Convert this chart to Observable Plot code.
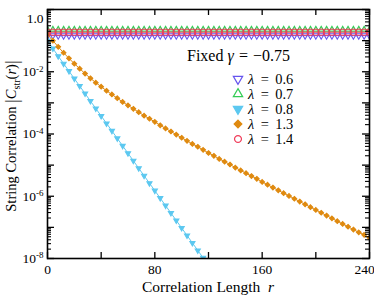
<!DOCTYPE html>
<html><head><meta charset="utf-8">
<script src="https://cdn.jsdelivr.net/npm/d3@7"></script>
<script src="https://cdn.jsdelivr.net/npm/@observablehq/plot@0.6"></script>
<style>
body{margin:0;background:#fff;}
#wrap{position:relative;width:374px;height:299px;font-family:"Liberation Serif","Times New Roman",serif;color:#000;}
.ov{position:absolute;white-space:nowrap;line-height:1;}
.eq{margin:0 0.32em;}
.eqw{margin:0 0.45em;}
</style></head><body><div id="wrap"></div>
<script>
// ---- data ----
const lambdaLabels = ["0.6", "0.7", "0.8", "1.3", "1.4"];
const gammaLabel = "−0.75";
const rGrid = [0,4,8,12,16,20,24,28,32,36,40,44,48,52,56,60,64,68,72,76,80,84,88,92,96,100,
  104,108,112,116,120,124,128,132,136,140,144,148,152,156,160,164,168,172,176,180,184,188,192,196,200,
  204,208,212,216,220,224,228,232,236,240];
const plateau06 = 0.145;   // λ = 0.6, flat
const plateau07 = 0.22;    // λ = 0.7, flat
const plateau14 = 0.187;   // λ = 1.4, flat
// log10 |C|
const log10C08 = [-1.00,-1.25,-1.50,-1.74,-1.98,-2.22,-2.46,-2.70,-2.94,-3.18,-3.42,-3.66,-3.90,-4.14,-4.38,
  -4.62,-4.86,-5.10,-5.34,-5.58,-5.82,-6.06,-6.30,-6.54,-6.78,-7.02,-7.26,-7.50,-7.74,-7.98,-8.22];
const log10C13 = [-0.80,-1.00,-1.20,-1.39,-1.57,-1.74,-1.90,-2.06,-2.21,-2.35,-2.48,-2.61,-2.73,-2.85,-2.97,
  -3.08,-3.19,-3.30,-3.41,-3.51,-3.61,-3.72,-3.82,-3.92,-4.02,-4.12,-4.22,-4.32,-4.41,-4.51,-4.61,-4.70,
  -4.80,-4.89,-4.98,-5.08,-5.17,-5.26,-5.35,-5.44,-5.54,-5.63,-5.72,-5.81,-5.90,-5.99,-6.08,-6.17,-6.26,
  -6.35,-6.44,-6.53,-6.62,-6.71,-6.80,-6.89,-6.98,-7.07,-7.16,-7.24,-7.33];
const xTickValues = [0, 80, 160, 240];
const yTickValues = [1, 1e-2, 1e-4, 1e-6, 1e-8];
const yTickLabels = ["1.0", "10^-2", "10^-4", "10^-6", "10^-8"];

// ---- styles ----
const W = 374, H = 299, mL = 47, mR = 5, mT = 9, mB = 41;
const fW = W - mL - mR, fH = H - mT - mB;
const triDown = {draw(ctx, size) {
  const y = Math.sqrt(size / (Math.sqrt(3) * 3));
  ctx.moveTo(0, y * 2); ctx.lineTo(-Math.sqrt(3) * y, -y); ctx.lineTo(Math.sqrt(3) * y, -y); ctx.closePath();
}};
const seriesStyle = [
  {color: "#6655ee", symbol: triDown, fill: "none", r: 2.3},
  {color: "#33cc55", symbol: "triangle", fill: "none", r: 2.3},
  {color: "#5cc8f0", symbol: triDown, fill: "#5cc8f0", r: 1.9},
  {color: "#df8a10", symbol: "diamond2", fill: "#df8a10", r: 2.1},
  {color: "#f03c5a", symbol: "circle", fill: "none", r: 3.1}
];

const series = [
  rGrid.map(r => ({r, c: plateau06})),
  rGrid.map(r => ({r, c: plateau07})),
  log10C08.map((v, i) => ({r: rGrid[i], c: 10 ** v})),
  log10C13.map((v, i) => ({r: rGrid[i], c: 10 ** v})),
  rGrid.map(r => ({r, c: plateau14}))
];

const drawOrder = [0, 1, 2, 3, 4];
const marks = [];
for (const i of drawOrder) {
  const s = seriesStyle[i];
  marks.push(Plot.line(series[i], {x: "r", y: "c", stroke: s.color, strokeWidth: 1, clip: true}));
  marks.push(Plot.dot(series[i], {x: "r", y: "c", symbol: s.symbol, r: s.r, stroke: s.color, fill: s.fill, strokeWidth: 1.1, clip: true}));
}

const xMinor = d3.range(0, 241, 40);
const yMajor = d3.range(-8, 1).map(e => 10 ** e);
const yMinor = [];
for (let e = -8; e < 0; e++) for (let k = 2; k <= 9; k++) yMinor.push(k * 10 ** e);

marks.push(
  Plot.tickX(xMinor, {x: d => d, insetTop: fH - 6, stroke: "black", strokeWidth: 1.3}),
  Plot.tickX(xMinor, {x: d => d, insetBottom: fH - 6, stroke: "black", strokeWidth: 1.3}),
  Plot.tickY(yMajor, {y: d => d, insetRight: fW - 7, stroke: "black", strokeWidth: 1.3}),
  Plot.tickY(yMajor, {y: d => d, insetLeft: fW - 7, stroke: "black", strokeWidth: 1.3}),
  Plot.tickY(yMinor, {y: d => d, insetRight: fW - 4, stroke: "black", strokeWidth: 1.1}),
  Plot.tickY(yMinor, {y: d => d, insetLeft: fW - 4, stroke: "black", strokeWidth: 1.1}),
  Plot.frame({stroke: "black", strokeWidth: 1.6}),
  Plot.axisX({ticks: xTickValues, tickSize: 0, tickPadding: 6, label: null, fontSize: 13.5, tickFormat: d => String(d)}),
  Plot.axisY({ticks: yTickValues, tickSize: 0, tickPadding: 4, label: null, fontSize: 13.5,
    tickFormat: d => yTickLabels[yTickValues.indexOf(d)]})
);

const chart = Plot.plot({
  width: W, height: H, marginLeft: mL, marginRight: mR, marginTop: mT, marginBottom: mB,
  x: {domain: [0, 240]},
  y: {type: "log", domain: [1e-8, 1]},
  style: {fontFamily: "'Liberation Serif','Times New Roman',serif", color: "black", background: "white"},
  marks
});

// superscript exponents on the y tick labels
d3.select(chart).selectAll('g[aria-label="y-axis tick label"] text').each(function() {
  const t = this.textContent;
  const sel = d3.select(this);
  if (t.includes("^")) {
    const [base, exp] = t.split("^");
    sel.text(null);
    sel.append("tspan").text(base);
    sel.append("tspan").attr("dy", "-0.5em").attr("font-size", "9px").text(exp);
  } else if (t === "1.0") {
    sel.attr("dy", "0.7em");
  }
});
// keep the last x tick label inside the picture
d3.select(chart).selectAll('g[aria-label="x-axis tick label"] text').each(function() {
  if (this.textContent === "240") d3.select(this).attr("dx", -5);
});

const wrap = document.getElementById("wrap");
wrap.appendChild(chart);

// axis titles
const xt = document.createElement("div");
xt.className = "ov";
xt.style.cssText = "left:208px;top:287px;transform:translate(-50%,-50%);font-size:15.5px;";
xt.innerHTML = "Correlation Length&nbsp;&nbsp;<i>r</i>";
wrap.appendChild(xt);

const yt = document.createElement("div");
yt.className = "ov";
yt.style.cssText = "left:12px;top:136px;transform:translate(-50%,-50%) rotate(-90deg);font-size:14.5px;";
yt.innerHTML = "String Correlation <span style='font-size:19px;vertical-align:-2px'>|</span><i>C</i><sub style='font-size:10px'>str</sub>(<i>r</i>)<span style='font-size:19px;vertical-align:-2px'>|</span>";
wrap.appendChild(yt);

// legend
const lg = document.createElement("div");
lg.className = "ov";
lg.style.cssText = "left:187px;top:48px;font-size:16px;";
lg.innerHTML = "Fixed <i>γ</i><span class='eq'>=</span>" + gammaLabel;
wrap.appendChild(lg);
const rowCenters = [79, 94, 109, 124, 139];
lambdaLabels.forEach((lab, i) => {
  const s = seriesStyle[i];
  const sym = d3.symbol(typeof s.symbol === "string" ? ({triangle: d3.symbolTriangle, diamond2: d3.symbolDiamond2, circle: d3.symbolCircle})[s.symbol] : s.symbol, Math.PI * 12)();
  const m = document.createElement("div");
  m.className = "ov";
  m.style.cssText = `left:231px;top:${rowCenters[i] - 7}px;`;
  m.innerHTML = `<svg width="14" height="14"><path transform="translate(7,7)" d="${sym}" fill="${s.fill}" stroke="${s.color}" stroke-width="1.2"/></svg>`;
  wrap.appendChild(m);
  const t = document.createElement("div");
  t.className = "ov";
  t.style.cssText = `left:248px;top:${rowCenters[i] - 7.2}px;font-size:14.4px;`;
  t.innerHTML = `<i>λ</i><span class="eqw">=</span>${lab}`;
  wrap.appendChild(t);
});
</script></body></html>
